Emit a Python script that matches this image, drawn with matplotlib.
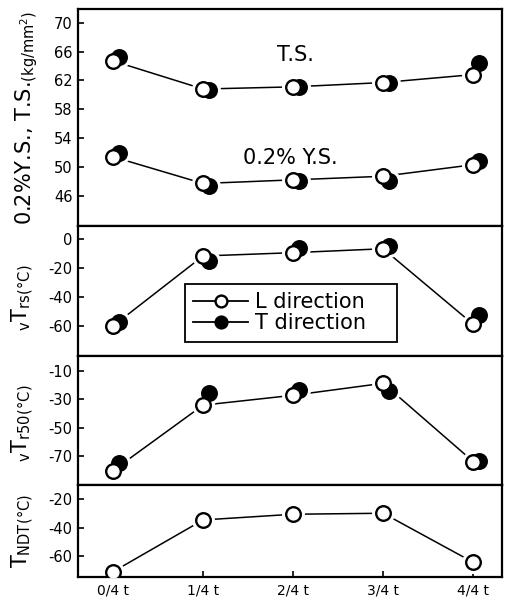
import matplotlib
matplotlib.use('Agg')
import matplotlib.pyplot as plt
from matplotlib.transforms import offset_copy
from matplotlib.lines import Line2D

plt.rcParams['font.family'] = ['DejaVu Sans']
plt.rcParams['axes.unicode_minus'] = False
plt.rcParams['mathtext.fontset'] = 'dejavusans'

positions = [0, 1, 2, 3, 4]
x_labels = ["0/4 t", "1/4 t", "2/4 t", "3/4 t", "4/4 t"]

ts_L = [64.7, 60.8, 61.1, 61.7, 62.8]
ts_T = [65.3, 60.6, 61.1, 61.7, 64.4]
ys_L = [51.4, 47.7, 48.2, 48.7, 50.3]
ys_T = [51.9, 47.4, 48.0, 48.0, 50.8]
vtrs_L = [-59.8, -11.5, -9.2, -6.5, -58.6]
vtrs_T = [-57.0, -15.0, -5.8, -4.6, -52.4]
vtr50_L = [-79.9, -34.1, -27.2, -18.8, -73.6]
vtr50_T = [-74.5, -25.8, -23.4, -24.1, -73.0]
tndt_L = [-71.0, -34.7, -30.7, -30.0, -64.4]

yticks1 = [46, 50, 54, 58, 62, 66, 70]
yticks2 = [0, -20, -40, -60]
yticks3 = [-10, -30, -50, -70]
yticks4 = [-20, -40, -60]

W, H = 510, 607
fig = plt.figure(figsize=(W / 100, H / 100), dpi=100)

left_px, right_px = 78, 502
bounds = [(9, 226), (226, 356), (356, 485), (485, 577)]
axes = []
for t, b in bounds:
    ax = fig.add_axes([left_px / W, 1 - b / H, (right_px - left_px) / W, (b - t) / H])
    axes.append(ax)

MS = 10.5
MEW = 1.7


def draw(ax, L, T=None):
    ax.plot(positions, L, color='black', lw=1.1, zorder=1)
    off = offset_copy(ax.transData, fig=fig, x=6, y=0, units='dots')
    # white halos to create gaps
    ax.plot(positions, L, ls='none', marker='o', ms=MS + 5, mfc='white', mec='white', zorder=2)
    if T is not None:
        ax.plot(positions, T, ls='none', marker='o', ms=MS + 5, mfc='white', mec='white',
                zorder=2, transform=off)
        ax.plot(positions, T, ls='none', marker='o', ms=MS, mfc='black', mec='black',
                mew=MEW, zorder=3, transform=off)
    ax.plot(positions, L, ls='none', marker='o', ms=MS, mfc='white', mec='black',
            mew=MEW, zorder=4)


draw(axes[0], ts_L, ts_T)
draw(axes[0], ys_L, ys_T)
draw(axes[1], vtrs_L, vtrs_T)
draw(axes[2], vtr50_L, vtr50_T)
draw(axes[3], tndt_L)

ylims = [(41.8, 71.9), (-80.5, 9.2), (-90, 0.3), (-74.7, -10.2)]
yticks = [yticks1, yticks2, yticks3, yticks4]
for ax, yl, yt in zip(axes, ylims, yticks):
    ax.set_xlim(-0.389, 4.32)
    ax.set_ylim(*yl)
    ax.set_yticks(yt)
    ax.tick_params(axis='y', direction='in', length=4, width=1.2, labelsize=10.5, pad=4)
    for s in ax.spines.values():
        s.set_linewidth(1.6)
    ax.set_xticks(positions)

for ax in axes[:3]:
    ax.tick_params(axis='x', length=0, labelbottom=False)
axes[3].set_xticklabels(x_labels)
axes[3].tick_params(axis='x', direction='in', length=4, width=1.2, labelsize=10, pad=5)

# y labels
axes[0].set_ylabel(r"0.2%Y.S., T.S.$_{\rm (kg/mm^2)}$", fontsize=15)
axes[0].yaxis.set_label_coords(-0.09, 0.5)
axes[1].set_ylabel(r"${}_{\rm v}$T$_{\rm rs}$$_{\rm (°C)}$", fontsize=15)
axes[1].yaxis.set_label_coords(-0.1, 0.45)
axes[2].set_ylabel(r"${}_{\rm v}$T$_{\rm r50}$$_{\rm (°C)}$", fontsize=15)
axes[2].yaxis.set_label_coords(-0.1, 0.48)
axes[3].set_ylabel(r"T$_{\rm NDT}$$_{\rm (°C)}$", fontsize=15)
axes[3].yaxis.set_label_coords(-0.1, 0.5)

axes[0].text(0.512, 0.788, "T.S.", transform=axes[0].transAxes, fontsize=15,
             ha='center', va='center')
axes[0].text(0.5, 0.313, "0.2% Y.S.", transform=axes[0].transAxes, fontsize=15,
             ha='center', va='center')

LMS = 8.5
handles = [
    Line2D([0], [0], color='black', lw=1.3, marker='o', ms=LMS, mfc='white', mec='black', mew=MEW),
    Line2D([0], [0], color='black', lw=1.3, marker='o', ms=LMS, mfc='black', mec='black', mew=MEW),
]
leg = axes[1].legend(handles, ["L direction", "T direction"], loc='lower left',
                     bbox_to_anchor=(0.252, 0.11, 0.5, 0.4), mode='expand',
                     borderaxespad=0, fontsize=15,
                     frameon=True, fancybox=False, framealpha=1, edgecolor='black',
                     handlelength=2.65, handletextpad=0.3, borderpad=0.4, labelspacing=0.05,
                     numpoints=1)
leg.get_frame().set_linewidth(1.3)

fig.savefig("out.png", dpi=100)
